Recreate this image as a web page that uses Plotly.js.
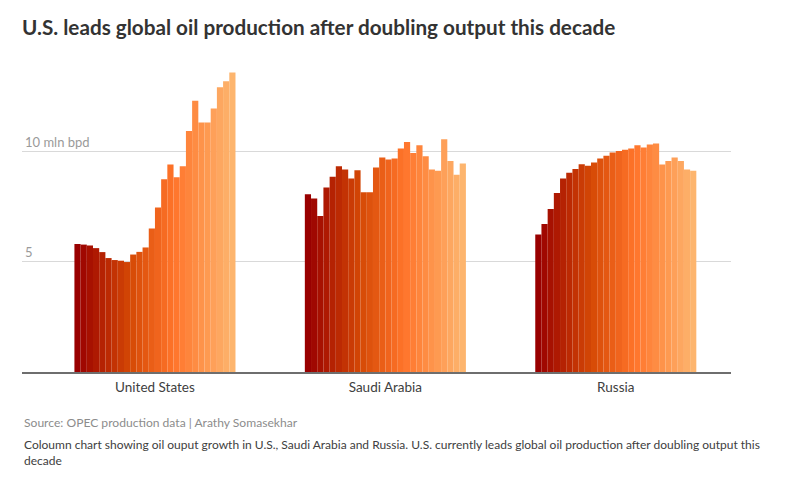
<!DOCTYPE html>
<html>
<head>
<meta charset="utf-8">
<script src="https://cdn.plot.ly/plotly-3.0.1.min.js"></script>
<style>
html,body{margin:0;padding:0;background:#fff;}
#chart{width:802px;height:482px;}
</style>
</head>
<body>
<div id="chart"></div>
<script>
// Categories (countries) and years (one series per year)
var countries = ["United States", "Saudi Arabia", "Russia"];
var years = [2000,2001,2002,2003,2004,2005,2006,2007,2008,2009,2010,2011,2012,
             2013,2014,2015,2016,2017,2018,2019,2020,2021,2022,2023,2024,2025];

// Crude output, million barrels per day
var usOutput = [5.80,5.77,5.73,5.61,5.43,5.16,5.07,5.04,4.98,5.32,5.44,5.64,6.50,
                7.45,8.73,9.40,8.82,9.32,10.92,12.28,11.30,11.30,11.93,12.90,13.17,13.56];
var saudiOutput = [8.05,7.86,7.06,8.36,8.84,9.32,9.17,8.76,9.14,8.14,8.14,9.26,9.71,
                   9.62,9.67,10.12,10.42,9.92,10.27,9.77,9.17,9.11,10.54,9.56,8.93,9.44];
var russiaOutput = [6.23,6.70,7.38,8.11,8.76,9.02,9.19,9.41,9.34,9.49,9.67,9.79,9.94,
                    10.01,10.06,10.12,10.27,10.17,10.30,10.35,9.40,9.56,9.71,9.56,9.17,9.11];

// Y tick labels
var yTickVals = [5, 10];
var yTickText = ["5", "10 mln bpd"];

// Colour ramp stops (style)
var rampStops = [
  [0.00, [153, 0, 0]],
  [0.35, [214, 74, 6]],
  [0.62, [255, 116, 42]],
  [1.00, [253, 181, 110]]
];
function rampColor(t){
  for (var k = 0; k < rampStops.length - 1; k++){
    var a = rampStops[k], b = rampStops[k+1];
    if (t <= b[0]){
      var f = (t - a[0]) / (b[0] - a[0]);
      var c = a[1].map(function(v, j){ return Math.round(v + (b[1][j] - v) * f); });
      return "rgb(" + c.join(",") + ")";
    }
  }
  var l = rampStops[rampStops.length-1][1];
  return "rgb(" + l.join(",") + ")";
}

var traces = years.map(function(yr, i){
  return {
    type: "bar",
    name: String(yr),
    x: countries,
    y: [usOutput[i], saudiOutput[i], russiaOutput[i]],
    marker: {color: rampColor(i / (years.length - 1)), line: {width: 0}},
    hoverinfo: "skip",
    showlegend: false
  };
});

var fontFam = "Lato, 'Open Sans', sans-serif";

var layout = {
  width: 802, height: 482,
  margin: {l: 22, r: 71, t: 60, b: 110},
  paper_bgcolor: "#ffffff",
  plot_bgcolor: "#ffffff",
  barmode: "group",
  bargap: 0.301,
  bargroupgap: 0,
  font: {family: fontFam, color: "#404040"},
  title: {
    text: "<b>U.S. leads global oil production after doubling output this decade</b>",
    x: 0, xref: "container", xanchor: "left",
    y: 0.943, yref: "container", yanchor: "middle",
    pad: {l: 22},
    font: {family: fontFam, size: 20.7, color: "#333333"}
  },
  xaxis: {
    type: "category",
    range: [-0.577, 2.5],
    showgrid: false,
    zeroline: false,
    showline: true,
    linecolor: "#6e6e6e",
    linewidth: 1.5,
    ticks: "",
    ticklabelstandoff: 2,
    tickfont: {family: fontFam, size: 13.5, color: "#404040"},
    fixedrange: true
  },
  yaxis: {
    range: [0, 14.13],
    tickmode: "array",
    tickvals: yTickVals,
    ticktext: yTickText,
    ticklabelposition: "inside top",
    tickfont: {family: fontFam, size: 13, color: "#9a9a9a"},
    showgrid: true,
    gridcolor: "#d9d9d9",
    gridwidth: 1,
    zeroline: false,
    showline: false,
    ticks: "",
    fixedrange: true
  },
  annotations: [
    {
      text: "Source: OPEC production data | Arathy Somasekhar",
      xref: "paper", yref: "paper", x: 0, y: -0.163,
      xanchor: "left", yanchor: "middle", showarrow: false,
      font: {family: fontFam, size: 12.1, color: "#8c8c8c"}
    },
    {
      text: "Coloumn chart showing oil ouput growth in U.S., Saudi Arabia and Russia. U.S. currently leads global oil production after doubling output this<br>decade",
      xref: "paper", yref: "paper", x: 0, y: -0.257,
      xanchor: "left", yanchor: "middle", align: "left", showarrow: false,
      font: {family: fontFam, size: 12, color: "#404040"}
    }
  ]
};

Plotly.newPlot("chart", traces, layout, {displayModeBar: false, staticPlot: true});
</script>
</body>
</html>
